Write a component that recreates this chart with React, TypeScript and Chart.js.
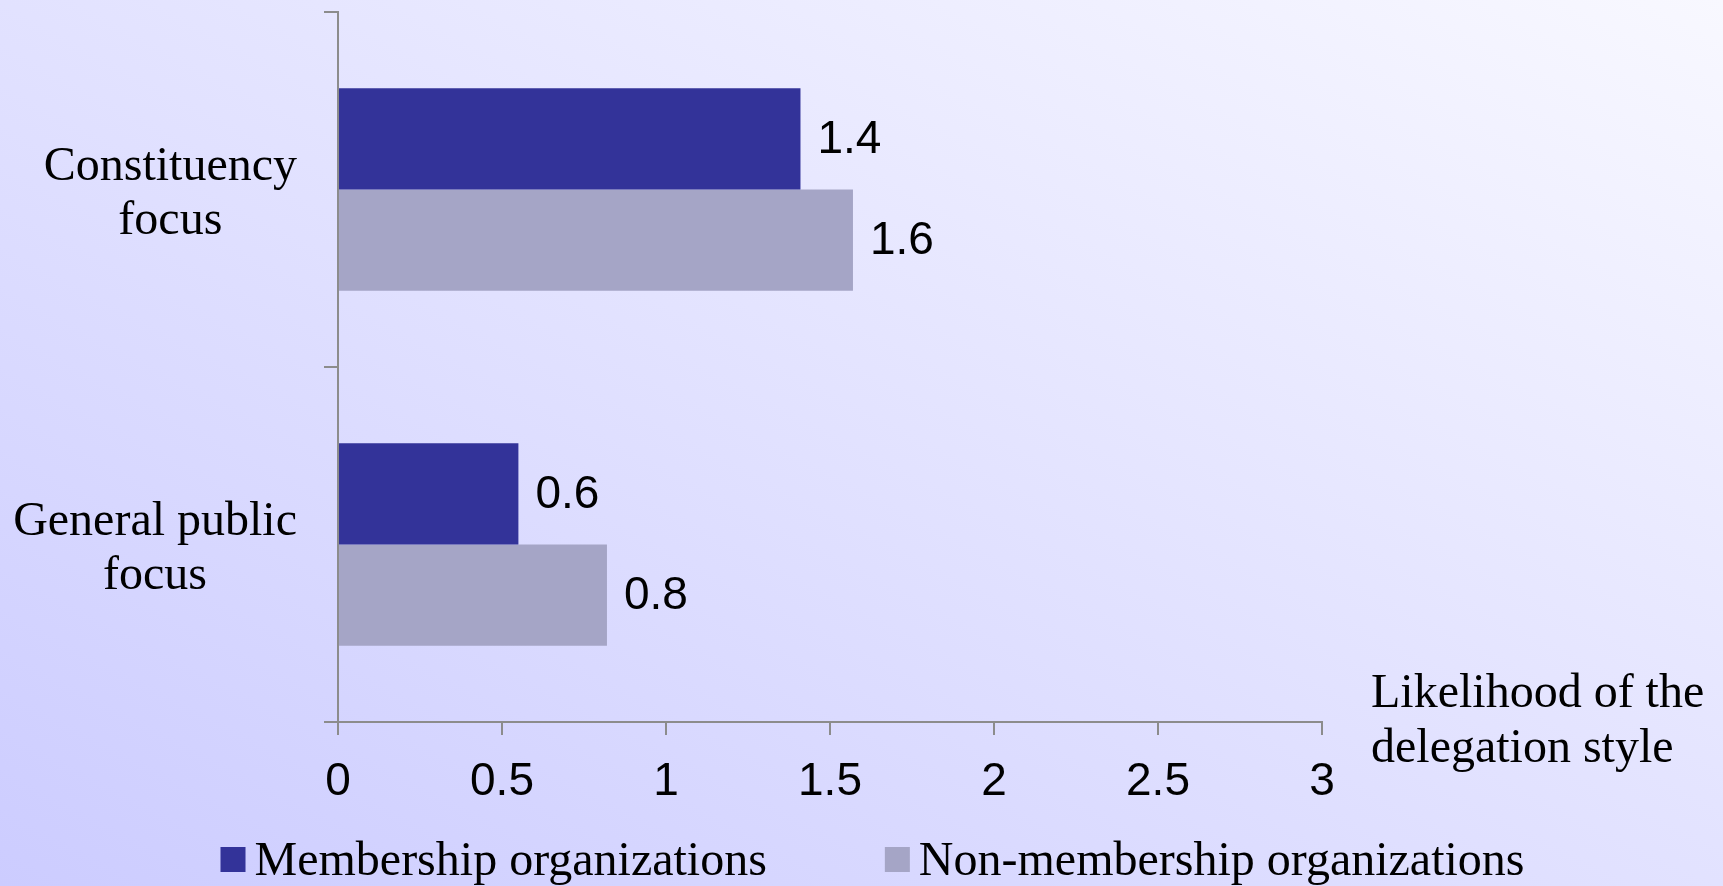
import React, { useEffect, useRef } from 'react';
import { Chart, registerables } from 'chart.js';

Chart.register(...registerables);

// ---- Data ----
const categories: string[][] = [
  ['Constituency', 'focus'],
  ['General public', 'focus'],
];
const seriesNames = ['Membership organizations', 'Non-membership organizations'];
const membershipValues = [1.41, 0.55];
const nonMembershipValues = [1.57, 0.82];
const xTickValues = [0, 0.5, 1, 1.5, 2, 2.5, 3];
const xTickLabels = ['0', '0.5', '1', '1.5', '2', '2.5', '3'];
const axisTitleLines = ['Likelihood of the', 'delegation style'];
const seriesColors = ['#333399', '#a5a5c6'];

const SERIF = '"Liberation Serif", "Times New Roman", serif';
const SANS = '"Liberation Sans", Arial, sans-serif';
const AXIS_GREY = '#8c8c8c';
const W = 1723;
const H = 886;

const fmt = (v: number) => (Math.round(v * 10) / 10).toFixed(1);

const valueLabelPlugin = {
  id: 'valueLabels',
  afterDatasetsDraw(chart: any) {
    const ctx = chart.ctx;
    ctx.save();
    ctx.font = `46px ${SANS}`;
    ctx.fillStyle = '#000';
    ctx.textAlign = 'left';
    ctx.textBaseline = 'middle';
    chart.data.datasets.forEach((ds: any, di: number) => {
      const meta = chart.getDatasetMeta(di);
      meta.data.forEach((el: any, i: number) => {
        ctx.fillText(fmt(ds.data[i]), el.x + 17, el.y + 1);
      });
    });
    ctx.restore();
  },
};

const categoryLabelPlugin = {
  id: 'categoryLabels',
  afterDraw(chart: any) {
    const ctx = chart.ctx;
    const y = chart.scales.y;
    ctx.save();
    ctx.font = `48px ${SERIF}`;
    ctx.fillStyle = '#000';
    ctx.textAlign = 'center';
    ctx.textBaseline = 'alphabetic';
    const rightEdge = y.right - 41;
    categories.forEach((lines, i) => {
      const c = y.getPixelForValue(i);
      const widest = Math.max(...lines.map((l) => ctx.measureText(l).width));
      const cx = rightEdge - widest / 2;
      lines.forEach((line, k) => ctx.fillText(line, cx, c - 10 + k * 54));
    });
    ctx.restore();
  },
};

const axisTitlePlugin = {
  id: 'axisTitleRight',
  afterDraw(chart: any) {
    const ctx = chart.ctx;
    const x = chart.scales.x;
    ctx.save();
    ctx.font = `48px ${SERIF}`;
    ctx.fillStyle = '#000';
    ctx.textAlign = 'left';
    ctx.textBaseline = 'alphabetic';
    axisTitleLines.forEach((line, k) => {
      ctx.fillText(line, x.right + 49, chart.chartArea.bottom - 15 + k * 55);
    });
    ctx.restore();
  },
};

const legendPlugin = {
  id: 'bottomLegend',
  afterDraw(chart: any) {
    const ctx = chart.ctx;
    ctx.save();
    ctx.font = `48px ${SERIF}`;
    ctx.textAlign = 'left';
    ctx.textBaseline = 'alphabetic';
    const box = 25;
    const textOffset = 34;
    const gap = 118;
    const items = chart.data.datasets.map((ds: any) => ({
      label: ds.label,
      color: ds.backgroundColor,
      w: ctx.measureText(ds.label).width,
    }));
    const total = items.reduce((s: number, it: any) => s + textOffset + it.w, 0) + gap * (items.length - 1);
    let x = chart.width / 2 + 11 - total / 2;
    const boxTop = chart.height - 39;
    const baseline = chart.height - 11;
    items.forEach((it: any) => {
      ctx.fillStyle = it.color;
      ctx.fillRect(x, boxTop, box, box);
      ctx.fillStyle = '#000';
      ctx.fillText(it.label, x + textOffset, baseline);
      x += textOffset + it.w + gap;
    });
    ctx.restore();
  },
};

export default function App() {
  const canvasRef = useRef<HTMLCanvasElement | null>(null);

  useEffect(() => {
    const canvas = canvasRef.current;
    if (!canvas) return;
    const chart = new Chart(canvas, {
      type: 'bar',
      data: {
        labels: categories.map((l) => l.join(' ')),
        datasets: [
          {
            label: seriesNames[0],
            data: membershipValues,
            backgroundColor: seriesColors[0],
            borderWidth: 0,
            categoryPercentage: 0.57,
            barPercentage: 1,
          },
          {
            label: seriesNames[1],
            data: nonMembershipValues,
            backgroundColor: seriesColors[1],
            borderWidth: 0,
            categoryPercentage: 0.57,
            barPercentage: 1,
          },
        ],
      },
      options: {
        indexAxis: 'y',
        animation: false,
        responsive: false,
        devicePixelRatio: 1,
        layout: { padding: { top: 12, right: W - 1322, bottom: 0, left: 0 } },
        plugins: {
          legend: { display: false },
          tooltip: { enabled: false },
          title: { display: false },
        },
        scales: {
          x: {
            type: 'linear',
            min: 0,
            max: 3,
            afterBuildTicks: (scale: any) => {
              scale.ticks = xTickValues.map((v) => ({ value: v }));
            },
            afterFit: (scale: any) => {
              scale.height = H - 722;
            },
            ticks: {
              callback: (_v: any, i: number) => xTickLabels[i],
              font: { family: SANS, size: 46 },
              color: '#000',
              padding: 20,
              maxRotation: 0,
              autoSkip: false,
            },
            grid: {
              drawOnChartArea: false,
              drawTicks: true,
              tickLength: 13,
              color: AXIS_GREY,
              lineWidth: 2,
            },
            border: { display: true, color: AXIS_GREY, width: 2 },
          },
          y: {
            type: 'category',
            offset: true,
            afterFit: (scale: any) => {
              scale.width = 338;
            },
            ticks: { display: false },
            grid: {
              offset: true,
              drawOnChartArea: false,
              drawTicks: true,
              tickLength: 14,
              color: AXIS_GREY,
              lineWidth: 2,
            },
            border: { display: true, color: AXIS_GREY, width: 2 },
          },
        },
      },
      plugins: [valueLabelPlugin, categoryLabelPlugin, axisTitlePlugin, legendPlugin],
    } as any);
    return () => chart.destroy();
  }, []);

  return (
    <div
      style={{
        position: 'fixed',
        left: 0,
        top: 0,
        width: W,
        height: H,
        background: 'linear-gradient(to top right, #ccccff, #f8f8ff)',
        overflow: 'hidden',
      }}
    >
      <canvas ref={canvasRef} width={W} height={H} style={{ display: 'block' }} />
    </div>
  );
}
